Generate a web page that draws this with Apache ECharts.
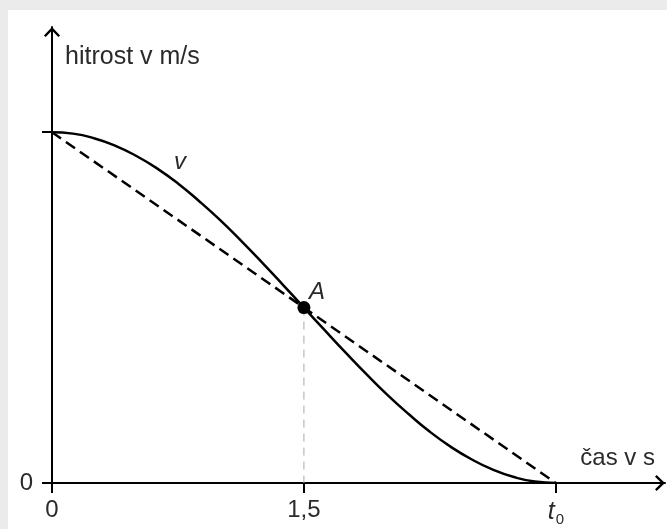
<!DOCTYPE html>
<html>
<head>
<meta charset="utf-8">
<script src="https://cdn.jsdelivr.net/npm/echarts@6/dist/echarts.min.js"></script>
<style>
  html, body { margin: 0; padding: 0; background: #ebebeb; }
  #main { position: absolute; left: 8px; top: 10px; width: 659px; height: 519px; background: #fff; }
</style>
</head>
<body>
<div id="main"></div>
<script>
// čas (s) in hitrost, odčitano s slike
var timeVals = [0, 0.125, 0.25, 0.375, 0.5, 0.625, 0.75, 0.875, 1, 1.125, 1.25, 1.375, 1.5,
  1.625, 1.75, 1.875, 2, 2.125, 2.25, 2.375, 2.5, 2.625, 2.75, 2.875, 3];
var speedVals = [1, 0.996, 0.983, 0.962, 0.933, 0.897, 0.854, 0.804, 0.75, 0.691, 0.629, 0.565, 0.5,
  0.435, 0.371, 0.309, 0.25, 0.196, 0.146, 0.103, 0.067, 0.038, 0.017, 0.004, 0];
// premica skozi začetek in t0
var chordX = [0, 3];
var chordY = [1, 0];
// točka A
var pointA = [1.5, 0.5];
// kje stoji oznaka v
var vLabelAt = [0.75, 0.854];
var xTicks = [0, 1.5, 3];
var yTicks = [0, 1];

var FONT = 'Liberation Sans';
var TXT = '#2a2a2a';

var myChart = echarts.init(document.getElementById('main'));

var arrow = 'path://M5,0 L10,5.2 L8.9,6.2 L5,2.2 L1.1,6.2 L0,5.2 Z';

var option = {
  animation: false,
  grid: { left: 44, right: 2, top: 17, bottom: 46, containLabel: false },
  xAxis: {
    type: 'value', min: 0, max: 3.65,
    splitLine: { show: false },
    name: 'čas v s', nameLocation: 'end', nameGap: -10,
    nameTextStyle: {
      fontFamily: FONT, fontSize: 24, color: TXT,
      align: 'right', verticalAlign: 'bottom', padding: [0, 0, 13, 0]
    },
    axisLine: {
      lineStyle: { color: '#000', width: 2 },
      symbol: ['none', arrow], symbolSize: [17, 10], symbolOffset: [0, -5]
    },
    axisTick: { show: true, length: 10, customValues: xTicks, lineStyle: { color: '#000', width: 2 } },
    axisLabel: {
      customValues: xTicks, margin: 15,
      fontFamily: FONT, fontSize: 24, color: TXT,
      formatter: function (v) {
        if (v === 3) return '{t|t}{s|0}';
        return String(v).replace('.', ',');
      },
      rich: {
        t: { fontFamily: FONT, fontSize: 25, fontStyle: 'italic', color: TXT },
        s: { fontFamily: FONT, fontSize: 15, color: TXT, padding: [14, 0, 0, 1] }
      }
    }
  },
  yAxis: {
    type: 'value', min: 0, max: 1.3,
    splitLine: { show: false },
    name: 'hitrost v m/s', nameLocation: 'end', nameGap: -30,
    nameTextStyle: {
      fontFamily: FONT, fontSize: 25, color: TXT,
      align: 'left', verticalAlign: 'middle', padding: [0, 0, 0, 13]
    },
    axisLine: {
      show: true,
      lineStyle: { color: '#000', width: 2 },
      symbol: ['none', arrow], symbolSize: [17, 10], symbolOffset: [0, -5]
    },
    axisTick: { show: true, length: 10, customValues: yTicks, lineStyle: { color: '#000', width: 2 } },
    axisLabel: {
      customValues: [0], margin: 19,
      fontFamily: FONT, fontSize: 24, color: TXT
    }
  },
  series: [
    {
      type: 'line',
      data: [pointA, [pointA[0], 0]],
      symbol: 'none',
      lineStyle: { color: '#aaa', width: 1, type: [8, 6] },
      z: 1
    },
    {
      type: 'line',
      data: chordX.map(function (x, i) { return [x, chordY[i]]; }),
      symbol: 'none',
      lineStyle: { color: '#000', width: 2.5, type: [11, 6] },
      z: 2
    },
    {
      type: 'line',
      data: timeVals.map(function (t, i) { return [t, speedVals[i]]; }),
      smooth: true,
      symbol: 'none',
      lineStyle: { color: '#000', width: 2.5 },
      markPoint: {
        symbol: 'circle', symbolSize: 0,
        data: [{ coord: vLabelAt }],
        label: {
          show: true, formatter: 'v', position: 'inside', offset: [2, -21],
          fontFamily: FONT, fontSize: 24, fontStyle: 'italic', color: TXT
        }
      },
      z: 3
    },
    {
      type: 'scatter',
      data: [pointA],
      symbolSize: 13,
      itemStyle: { color: '#000', opacity: 1 },
      label: {
        show: true, formatter: 'A', position: 'inside', offset: [13, -15],
        fontFamily: FONT, fontSize: 24, fontStyle: 'italic', color: TXT
      },
      z: 4
    }
  ]
};

myChart.setOption(option);
</script>
</body>
</html>
